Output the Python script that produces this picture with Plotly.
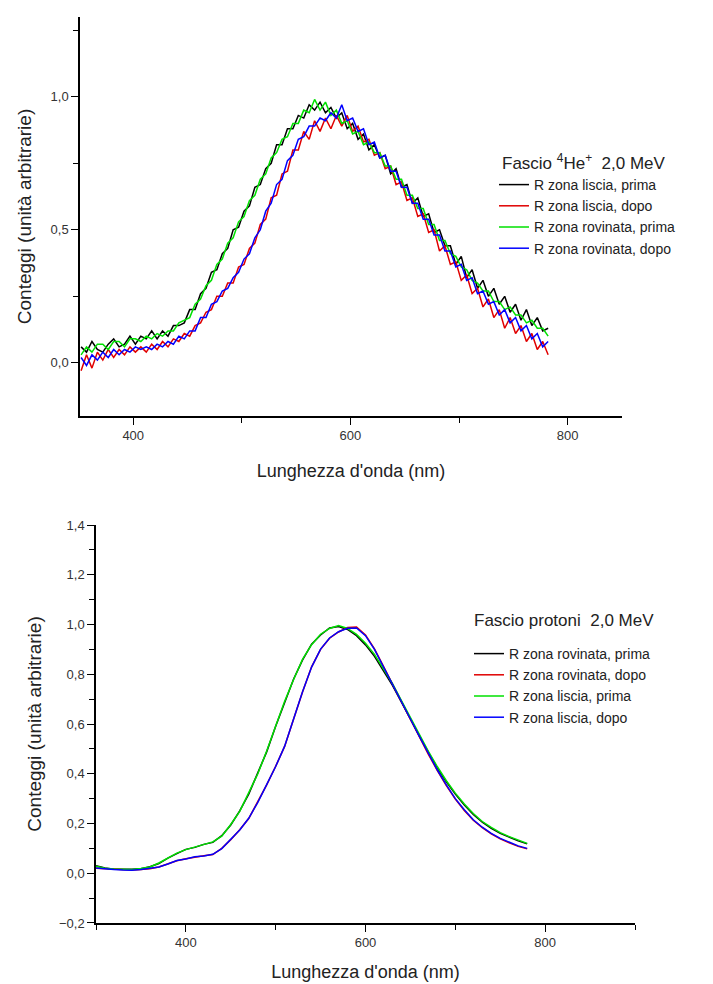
import plotly.graph_objects as go

# ---- top panel: Fascio 4He+ 2,0 MeV (noisy spectra, 5 nm sampling)
wl_he = list(range(352, 783, 5))

he_liscia_prima = [0.06, 0.04, 0.08, 0.05, 0.04, 0.07, 0.09, 0.06, 0.07, 0.10,
                   0.07, 0.10, 0.09, 0.12, 0.09, 0.12, 0.10, 0.14, 0.14, 0.15,
                   0.20, 0.20, 0.26, 0.28, 0.34, 0.35, 0.41, 0.43, 0.50, 0.51,
                   0.57, 0.59, 0.66, 0.67, 0.73, 0.75, 0.82, 0.82, 0.88, 0.88,
                   0.93, 0.92, 0.97, 0.95, 0.98, 0.94, 0.96, 0.92, 0.94, 0.88,
                   0.90, 0.84, 0.86, 0.80, 0.82, 0.77, 0.78, 0.71, 0.73, 0.66,
                   0.67, 0.60, 0.62, 0.55, 0.56, 0.49, 0.50, 0.44, 0.44, 0.37,
                   0.40, 0.32, 0.35, 0.28, 0.31, 0.25, 0.28, 0.22, 0.25, 0.19,
                   0.22, 0.16, 0.20, 0.14, 0.17, 0.12, 0.13]
he_liscia_dopo = [-0.03, 0.03, -0.02, 0.04, 0.01, 0.05, 0.02, 0.05, 0.03, 0.06,
                  0.04, 0.06, 0.04, 0.07, 0.05, 0.08, 0.06, 0.09, 0.08, 0.11,
                  0.10, 0.14, 0.15, 0.19, 0.20, 0.25, 0.25, 0.30, 0.30, 0.36,
                  0.37, 0.43, 0.45, 0.52, 0.54, 0.62, 0.63, 0.71, 0.72, 0.80,
                  0.80, 0.87, 0.84, 0.91, 0.87, 0.92, 0.88, 0.93, 0.89, 0.93,
                  0.87, 0.89, 0.83, 0.84, 0.78, 0.79, 0.73, 0.74, 0.67, 0.68,
                  0.61, 0.62, 0.55, 0.56, 0.49, 0.50, 0.42, 0.44, 0.37, 0.38,
                  0.31, 0.33, 0.26, 0.28, 0.21, 0.24, 0.17, 0.20, 0.13, 0.17,
                  0.11, 0.14, 0.08, 0.11, 0.05, 0.08, 0.03]
he_rovinata_prima = [0.03, 0.06, 0.04, 0.07, 0.07, 0.05, 0.08, 0.08, 0.06, 0.09,
                     0.09, 0.08, 0.10, 0.09, 0.11, 0.10, 0.12, 0.12, 0.15, 0.16,
                     0.17, 0.22, 0.24, 0.29, 0.31, 0.37, 0.39, 0.45, 0.47, 0.53,
                     0.55, 0.61, 0.63, 0.69, 0.71, 0.77, 0.79, 0.84, 0.85, 0.90,
                     0.90, 0.95, 0.94, 0.99, 0.95, 0.98, 0.93, 0.95, 0.90, 0.91,
                     0.86, 0.87, 0.82, 0.83, 0.79, 0.79, 0.74, 0.74, 0.69, 0.69,
                     0.63, 0.63, 0.58, 0.58, 0.52, 0.52, 0.46, 0.46, 0.41, 0.40,
                     0.36, 0.35, 0.31, 0.30, 0.27, 0.27, 0.23, 0.23, 0.20, 0.21,
                     0.18, 0.18, 0.15, 0.16, 0.13, 0.13, 0.10]
he_rovinata_dopo = [0.02, -0.01, 0.03, 0.01, 0.04, 0.02, 0.05, 0.03, 0.05, 0.04,
                    0.06, 0.05, 0.06, 0.05, 0.07, 0.06, 0.08, 0.07, 0.10, 0.09,
                    0.12, 0.12, 0.17, 0.17, 0.22, 0.23, 0.27, 0.28, 0.32, 0.34,
                    0.39, 0.41, 0.47, 0.50, 0.57, 0.60, 0.67, 0.69, 0.76, 0.78,
                    0.84, 0.85, 0.89, 0.89, 0.92, 0.91, 0.94, 0.92, 0.97, 0.91,
                    0.92, 0.87, 0.88, 0.82, 0.83, 0.77, 0.78, 0.72, 0.72, 0.66,
                    0.66, 0.60, 0.60, 0.54, 0.54, 0.48, 0.48, 0.42, 0.42, 0.36,
                    0.37, 0.31, 0.32, 0.26, 0.27, 0.22, 0.23, 0.18, 0.20, 0.15,
                    0.17, 0.12, 0.14, 0.09, 0.11, 0.06, 0.08]

# ---- bottom panel: Fascio protoni 2,0 MeV (10 nm sampling)
wl_p = list(range(300, 781, 10))

p_rovinata_prima = [0.030, 0.021, 0.016, 0.015, 0.016, 0.018, 0.026, 0.039, 0.061, 0.079,
                    0.096, 0.104, 0.116, 0.124, 0.151, 0.194, 0.251, 0.318, 0.401, 0.488,
                    0.591, 0.688, 0.781, 0.858, 0.921, 0.958, 0.986, 0.992, 0.980, 0.955,
                    0.918, 0.872, 0.815, 0.755, 0.688, 0.618, 0.552, 0.486, 0.423, 0.368,
                    0.318, 0.274, 0.236, 0.205, 0.180, 0.160, 0.144, 0.130, 0.118]
p_rovinata_dopo = [0.020, 0.018, 0.015, 0.013, 0.013, 0.015, 0.018, 0.025, 0.038, 0.050,
                   0.058, 0.065, 0.070, 0.075, 0.100, 0.135, 0.175, 0.220, 0.285, 0.355,
                   0.430, 0.510, 0.620, 0.730, 0.830, 0.900, 0.945, 0.970, 0.988, 0.990,
                   0.958, 0.902, 0.832, 0.760, 0.690, 0.618, 0.548, 0.478, 0.413, 0.352,
                   0.298, 0.252, 0.213, 0.183, 0.158, 0.138, 0.122, 0.108, 0.098]
p_liscia_prima = [0.028, 0.020, 0.017, 0.016, 0.015, 0.019, 0.025, 0.041, 0.060, 0.081,
                  0.095, 0.106, 0.115, 0.126, 0.149, 0.196, 0.249, 0.321, 0.399, 0.491,
                  0.589, 0.691, 0.779, 0.861, 0.919, 0.961, 0.984, 0.996, 0.984, 0.960,
                  0.925, 0.880, 0.822, 0.762, 0.694, 0.624, 0.556, 0.490, 0.428, 0.372,
                  0.322, 0.278, 0.240, 0.208, 0.184, 0.163, 0.147, 0.133, 0.120]
p_liscia_dopo = [0.021, 0.017, 0.015, 0.013, 0.012, 0.015, 0.019, 0.025, 0.037, 0.051,
                 0.057, 0.066, 0.069, 0.076, 0.099, 0.136, 0.174, 0.221, 0.284, 0.356,
                 0.429, 0.511, 0.619, 0.731, 0.829, 0.901, 0.946, 0.971, 0.985, 0.986,
                 0.955, 0.900, 0.830, 0.758, 0.689, 0.620, 0.550, 0.480, 0.415, 0.355,
                 0.300, 0.255, 0.215, 0.185, 0.160, 0.140, 0.125, 0.110, 0.100]

names_he = ["R zona liscia, prima", "R zona liscia, dopo",
            "R zona rovinata, prima", "R zona rovinata, dopo"]
names_p = ["R zona rovinata, prima", "R zona rovinata, dopo",
           "R zona liscia, prima", "R zona liscia, dopo"]
colors = ["#000000", "#e00000", "#00e000", "#0000ff"]

FONT = "Liberation Sans"

# the page body adds an 8 px margin, so the figure is 16 px smaller
# and every window position is shifted back by 8 px
W, H, OFF = 705, 976, 8


def fx(px):
    return (px - OFF) / W


def fy(py):
    return 1 - (py - OFF) / H


fig = go.Figure()

for name, ys, col in zip(names_he,
                         [he_liscia_prima, he_liscia_dopo, he_rovinata_prima, he_rovinata_dopo],
                         colors):
    fig.add_trace(go.Scatter(x=wl_he, y=ys, name=name, mode="lines",
                             line=dict(color=col, width=1.5),
                             xaxis="x", yaxis="y", legend="legend"))

for name, ys, col in zip(names_p,
                         [p_rovinata_prima, p_rovinata_dopo, p_liscia_prima, p_liscia_dopo],
                         colors):
    fig.add_trace(go.Scatter(x=wl_p, y=ys, name=name, mode="lines",
                             line=dict(color=col, width=1.5),
                             xaxis="x2", yaxis="y2", legend="legend2"))

axis_common = dict(showline=True, linecolor="black", linewidth=1.5, mirror=False,
                   showgrid=False, zeroline=False, ticks="outside", ticklen=7,
                   tickwidth=1.2, tickcolor="black", automargin=False,
                   tickfont=dict(family=FONT, size=13, color="#333333"))
title_font = dict(family=FONT, size=18, color="#222222")
ytitle_font = dict(family=FONT, size=19, color="#222222")

fig.update_layout(
    width=W, height=H,
    margin=dict(l=0, r=0, t=0, b=0),
    paper_bgcolor="white", plot_bgcolor="white",
    separators=",.",
    font=dict(family=FONT, color="#222222"),
    xaxis=dict(domain=[fx(80), fx(622)], anchor="y", range=[351, 850],
               dtick=200, tick0=0,
               minor=dict(dtick=100, ticks="outside", ticklen=5, tickcolor="black"),
               title=dict(text="Lunghezza d'onda (nm)", standoff=22, font=title_font),
               **axis_common),
    yaxis=dict(domain=[fy(416), fy(17)], anchor="x", range=[-0.2, 1.3],
               dtick=0.5, tick0=0, tickformat=".1f",
               minor=dict(dtick=0.25, ticks="outside", ticklen=5, tickcolor="black"),
               title=dict(text="Conteggi (unità arbitrarie)", standoff=14, font=ytitle_font),
               **axis_common),
    xaxis2=dict(domain=[fx(96), fx(635)], anchor="y2", range=[300, 900],
                dtick=200, tick0=0,
                minor=dict(dtick=100, ticks="outside", ticklen=5, tickcolor="black"),
                title=dict(text="Lunghezza d'onda (nm)", standoff=16, font=title_font),
                **axis_common),
    yaxis2=dict(domain=[fy(923), fy(525)], anchor="x2",
                range=[-0.2001, 1.4001], dtick=0.2, tick0=0, tickformat=".1f",
                minor=dict(dtick=0.1, ticks="outside", ticklen=5, tickcolor="black"),
                title=dict(text="Conteggi (unità arbitrarie)", standoff=12, font=ytitle_font),
                **axis_common),
    legend=dict(x=fx(494), y=fy(169), xanchor="left", yanchor="top",
                bgcolor="rgba(0,0,0,0)", tracegroupgap=0,
                font=dict(family=FONT, size=14, color="#222222")),
    legend2=dict(x=fx(469), y=fy(638), xanchor="left", yanchor="top",
                 bgcolor="rgba(0,0,0,0)", tracegroupgap=0,
                 font=dict(family=FONT, size=14, color="#222222")),
    annotations=[
        dict(text="Fascio <sup>4</sup>He<sup>+</sup>  2,0 MeV", x=fx(500), y=fy(162),
             xref="paper", yref="paper", xanchor="left", yanchor="middle",
             showarrow=False, font=dict(family=FONT, size=17, color="#222222")),
        dict(text="Fascio protoni  2,0 MeV", x=fx(472), y=fy(620),
             xref="paper", yref="paper", xanchor="left", yanchor="middle",
             showarrow=False, font=dict(family=FONT, size=17, color="#222222")),
    ],
)

fig.write_html("out.html")
